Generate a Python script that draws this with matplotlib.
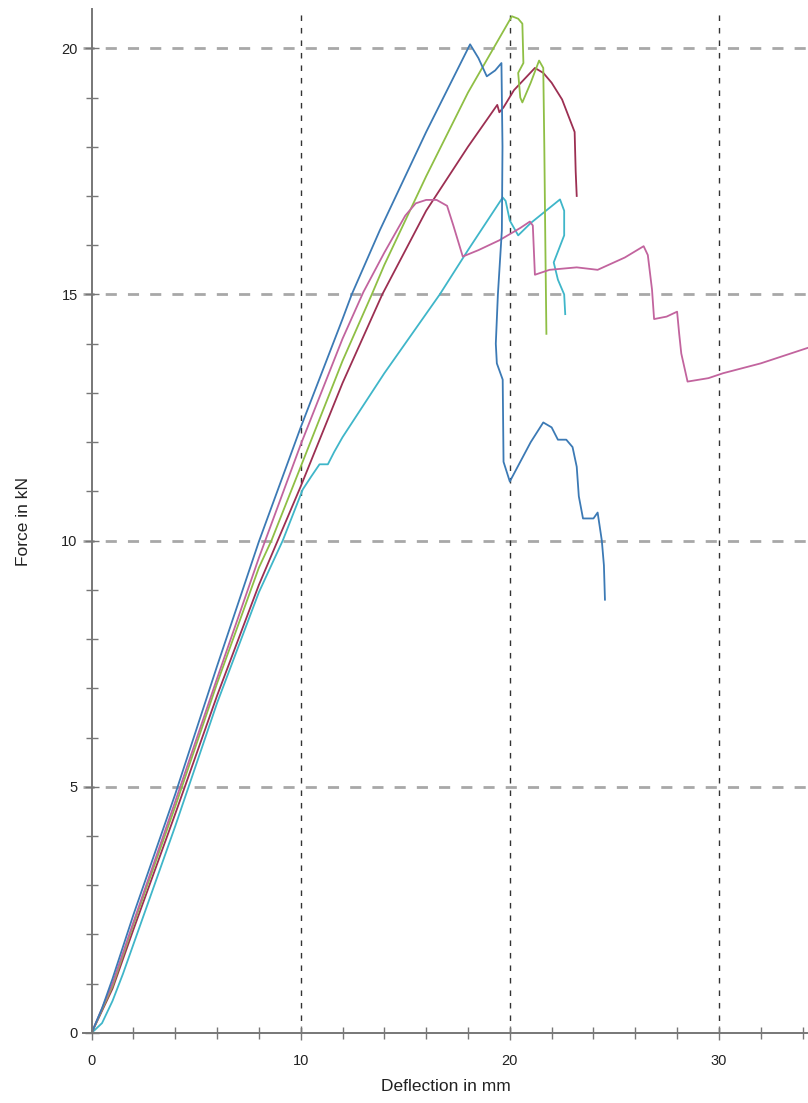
import matplotlib
matplotlib.use("Agg")
import matplotlib.pyplot as plt
from matplotlib.ticker import MultipleLocator

plt.rcParams["font.family"] = ["Liberation Sans", "DejaVu Sans"]

# Specimen curves: deflection (mm) vs force (kN)
blue_x = [0, 0.5, 1, 2, 4, 6, 8, 10, 12, 12.44, 13.78, 16, 18.1, 18.5, 18.9, 19.3,
          19.6, 19.65, 19.62, 19.43, 19.33, 19.38, 19.66, 19.7, 20.0, 20.5, 21.0,
          21.6, 22.0, 22.3, 22.7, 23.0, 23.2, 23.3, 23.5, 24.0, 24.2, 24.4, 24.5, 24.55]
blue_y = [0, 0.5, 1.1, 2.4, 4.85, 7.45, 9.98, 12.3, 14.5, 15.0, 16.3, 18.3, 20.08,
          19.8, 19.43, 19.55, 19.7, 18.0, 16.3, 15.0, 14.0, 13.6, 13.27, 11.6, 11.2,
          11.6, 12.0, 12.4, 12.3, 12.05, 12.05, 11.9, 11.5, 10.9, 10.45, 10.45, 10.57,
          10.0, 9.5, 8.8]

pink_x = [0, 1, 2, 4, 6, 8, 10, 12, 13, 14, 14.6, 15, 15.5, 16, 16.5, 17, 17.3,
          17.75, 18.5, 19.5, 20.5, 20.96, 21.1, 21.2, 21.9, 23.2, 24.2, 25.5, 26.4,
          26.6, 26.8, 26.9, 27.5, 28.0, 28.1, 28.2, 28.5, 29.5, 30.2, 32, 34.5]
pink_y = [0, 1.0, 2.25, 4.7, 7.2, 9.65, 11.95, 14.1, 15.05, 15.85, 16.3, 16.6,
          16.85, 16.92, 16.92, 16.8, 16.4, 15.77, 15.9, 16.1, 16.35, 16.48, 16.4,
          15.4, 15.5, 15.55, 15.5, 15.75, 15.98, 15.8, 15.1, 14.5, 14.55, 14.65,
          14.2, 13.8, 13.23, 13.3, 13.4, 13.6, 13.95]

green_x = [0, 1, 2, 4, 6, 8, 8.6, 10, 12, 13.4, 14, 16, 18, 20.1, 20.4, 20.6, 20.65,
           20.4, 20.5, 20.6, 21.0, 21.4, 21.6, 21.65, 21.7, 21.75]
green_y = [0, 0.95, 2.2, 4.6, 7.1, 9.45, 10.0, 11.5, 13.65, 15.0, 15.6, 17.4, 19.1,
           20.65, 20.6, 20.5, 19.7, 19.5, 19.0, 18.9, 19.3, 19.75, 19.6, 18.0, 16.0, 14.2]

maroon_x = [0, 1, 2, 4, 6, 8, 8.9, 10, 12, 13.9, 16, 18, 19.4, 19.5, 19.7, 20.2,
            21.2, 21.6, 22.0, 22.5, 23.1, 23.15, 23.2]
maroon_y = [0, 0.9, 2.1, 4.45, 6.85, 9.1, 10.0, 11.1, 13.2, 15.0, 16.7, 18.0, 18.85,
            18.7, 18.8, 19.15, 19.6, 19.5, 19.3, 18.96, 18.3, 17.5, 17.0]

cyan_x = [0, 0.5, 1, 1.5, 2, 3, 4, 6, 8, 9.14, 10.1, 10.5, 10.9, 11.3, 11.6, 12, 14,
          16.65, 18, 19.66, 19.8, 20.0, 20.4, 21.0, 22.4, 22.6, 22.6, 22.1, 22.3,
          22.6, 22.65]
cyan_y = [0, 0.2, 0.65, 1.2, 1.8, 3.0, 4.2, 6.7, 8.95, 10.0, 11.04, 11.3, 11.55,
          11.55, 11.8, 12.1, 13.4, 15.0, 15.9, 16.97, 16.9, 16.5, 16.2, 16.45, 16.93,
          16.7, 16.2, 15.65, 15.3, 15.0, 14.6]

series = [
    (cyan_x, cyan_y, "#3fb6c9"),
    (maroon_x, maroon_y, "#9c2f52"),
    (green_x, green_y, "#8fbf45"),
    (pink_x, pink_y, "#c2649e"),
    (blue_x, blue_y, "#3c7ab5"),
]

fig = plt.figure(figsize=(8.08, 11.03), dpi=100)
ax = fig.add_axes([0.103, 0.0635, 0.897, 0.928])

for xs, ys, col in series:
    ax.plot(xs, ys, color=col, lw=1.3, solid_joinstyle="round")

ax.set_xlim(-0.4, 34.26)
ax.set_ylim(0, 20.79)

# grid
for yv in [5, 10, 15, 20]:
    ax.axhline(yv, color="#a8a8a8", lw=2.0, dashes=(4, 4), zorder=0)
for xv in [10, 20, 30]:
    ax.axvline(xv, color="#333333", lw=1.0, dashes=(4, 5), zorder=0)

for s in ["top", "right"]:
    ax.spines[s].set_visible(False)
ax.spines["left"].set_position(("data", 0))
ax.spines["left"].set_color("#777777")
ax.spines["bottom"].set_color("#777777")
ax.spines["left"].set_linewidth(1.4)
ax.spines["bottom"].set_linewidth(1.4)

ax.xaxis.set_major_locator(MultipleLocator(10))
ax.xaxis.set_minor_locator(MultipleLocator(2))
ax.yaxis.set_major_locator(MultipleLocator(5))
ax.yaxis.set_minor_locator(MultipleLocator(1))
ax.tick_params(which="both", direction="inout", color="#777777", width=1.0)
ax.tick_params(which="major", length=10, labelsize=10.5, labelcolor="#222222")
ax.tick_params(which="minor", length=9)
ax.tick_params(axis="x", which="major", pad=10)
ax.tick_params(axis="y", which="major", pad=5)

ax.set_xlabel("Deflection in mm", fontsize=12.5, color="#222222", labelpad=8)
ax.set_ylabel("Force in kN", fontsize=12.5, color="#222222", labelpad=22)

fig.savefig("out.png", dpi=100)
